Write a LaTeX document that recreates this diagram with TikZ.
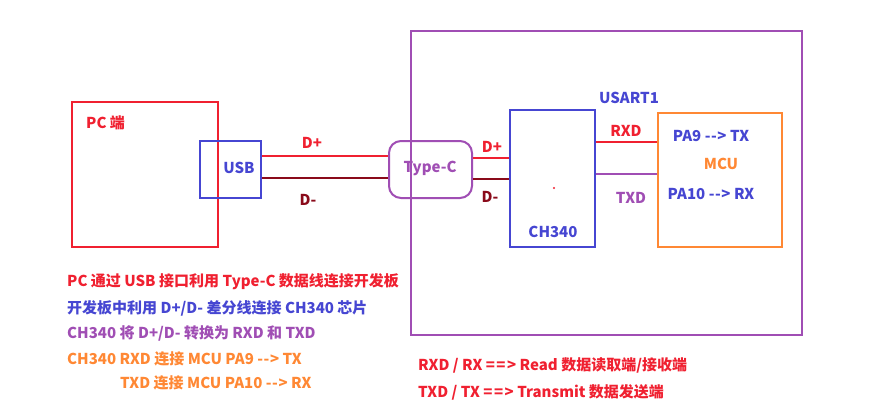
\documentclass[tikz,border=0pt]{standalone}
\usepackage{fontspec}
\setmainfont{Noto Sans CJK SC}[Ligatures=NoCommon]
\definecolor{cRed}{HTML}{F02030}
\definecolor{cDark}{HTML}{8A0A1A}
\definecolor{cBlue}{HTML}{4646D2}
\definecolor{cPurple}{HTML}{A04EB4}
\definecolor{cOrange}{HTML}{FF8834}
\newcommand{\arr}{-\kern0.6pt-\kern0.6pt>}
\newcommand{\darr}{=\kern1.5pt=\kern1.5pt>}
\tikzset{
  box/.style={draw, line width=2pt, anchor=north west, inner sep=0pt},
  lbl/.style={inner sep=0pt, font=\fontsize{15}{18}\selectfont\bfseries},
  wire/.style={line width=2pt},
}
\begin{document}
\begin{tikzpicture}[x=1pt,y=-1pt]
\useasboundingbox[fill=white] (0,0) rectangle (888,415);
% boxes
\node[box, draw=cPurple, minimum width=391, minimum height=304] (board) at (410,30) {};
\node[box, draw=cRed, minimum width=146, minimum height=145] (pc) at (71,101) {};
\node[box, draw=cBlue, minimum width=61, minimum height=57] (usb) at (199,140) {};
\node[box, draw=cPurple, rounded corners=12pt, minimum width=83, minimum height=57] (typec) at (388,140) {};
\node[box, draw=cBlue, minimum width=85, minimum height=137] (ch) at (509,109) {};
\node[box, draw=cOrange, minimum width=124, minimum height=134] (mcu) at (657,112) {};
% level coordinates
\coordinate (yDp) at (0,156);
\coordinate (yDm) at (0,178);
\coordinate (yDp2) at (0,158);
\coordinate (yDm2) at (0,179);
\coordinate (yRx) at (0,142);
\coordinate (yTx) at (0,174);
% wires
\draw[wire, cRed] (usb.east |- yDp) -- (typec.west |- yDp);
\draw[wire, cDark] (usb.east |- yDm) -- (typec.west |- yDm);
\draw[wire, cRed] (typec.east |- yDp2) -- (ch.west |- yDp2);
\draw[wire, cDark] (typec.east |- yDm2) -- (ch.west |- yDm2);
\draw[wire, cRed] (ch.east |- yRx) -- (mcu.west |- yRx);
\draw[wire, cPurple] (ch.east |- yTx) -- (mcu.west |- yTx);
% dot
\fill[cRed] (554,188) circle (1.2pt);
% labels
\node[lbl, text=cRed, anchor=west] (pcl) at (86,123) {PC 端};
\node[lbl, text=cBlue] (usbl) at (239,168) {USB};
\node[lbl, text=cPurple] (tcl) at (430,168) {Type-C};
\node[lbl, text=cRed] (dp1) at (312,143) {D+};
\node[lbl, text=cDark] (dm1) at (308,200) {D-};
\node[lbl, text=cRed] (dp2) at (492,147) {D+};
\node[lbl, text=cDark] (dm2) at (490,197) {D-};
\node[lbl, text=cBlue] (chl) at (553,232) {CH340};
\node[lbl, text=cBlue] (us) at (629,98) {USART1};
\node[lbl, text=cRed] (rxd) at (626,131) {RXD};
\node[lbl, text=cPurple] (txd) at (631,198) {TXD};
\node[lbl, text=cBlue] (pa9) at (711,136) {PA9 \arr\ TX};
\node[lbl, text=cOrange] (mcul) at (721,164) {MCU};
\node[lbl, text=cBlue] (pa10) at (711,194) {PA10 \arr\ RX};
% bottom notes
\node[lbl, text=cRed, anchor=west] (n1) at (67,282) {PC 通过 USB 接口利用 Type-C 数据线连接开发板};
\node[lbl, text=cBlue, anchor=west] (n2) at (67,308) {开发板中利用 D+/D- 差分线连接 CH340 芯片};
\node[lbl, text=cPurple, anchor=west] (n3) at (67,333) {CH340 将 D+/D- 转换为 RXD 和 TXD};
\node[lbl, text=cOrange, anchor=west] (n4) at (67,359) {CH340 RXD 连接 MCU PA9 \arr\ TX};
\node[lbl, text=cOrange, anchor=west] (n5) at (120,383) {TXD 连接 MCU PA10 \arr\ RX};
\node[lbl, text=cRed, anchor=west] (r1) at (418,365) {RXD / RX \darr\ Read 数据读取端/接收端};
\node[lbl, text=cRed, anchor=west] (r2) at (418,392) {TXD / TX \darr\ Transmit 数据发送端};
\end{tikzpicture}
\end{document}
